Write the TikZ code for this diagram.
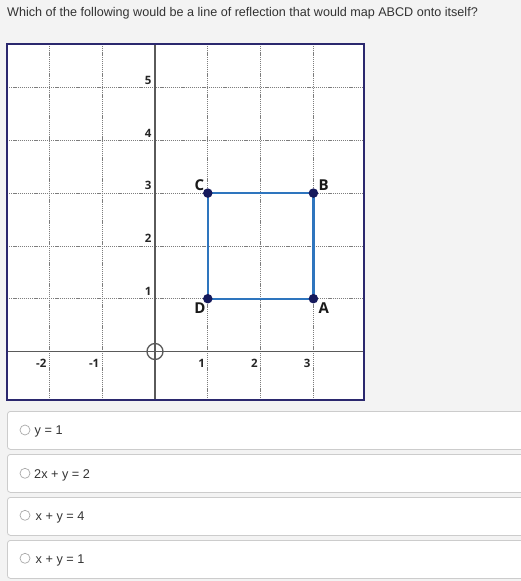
\documentclass[tikz,border=0pt]{standalone}
\usepackage{fontspec}
\setmainfont{Liberation Sans}
\newfontfamily\tickfont{Open Sans}
\definecolor{bg}{RGB}{243,243,243}
\definecolor{navy}{RGB}{43,40,110}
\definecolor{sqblue}{RGB}{46,117,190}
\definecolor{dotnavy}{RGB}{22,26,92}
\definecolor{axisgray}{RGB}{90,90,90}
\definecolor{gridgray}{RGB}{125,125,125}
\definecolor{optgray}{RGB}{204,204,204}
\definecolor{radiogray}{RGB}{170,170,170}
\definecolor{txt}{RGB}{51,51,51}
\begin{document}
\begin{tikzpicture}[x=1pt,y=-1pt,
  gridline/.style={gridgray, line width=0.7pt, dash pattern=on 1.2pt off 0.9pt},
  axisline/.style={axisgray, line width=1.5pt},
  sqline/.style={sqblue, line width=2.4pt},
  dot/.style={circle, fill=dotnavy, inner sep=0pt, minimum size=9.5pt},
  tick/.style={font=\tickfont\bfseries\fontsize{11.5}{12}\selectfont, inner sep=0pt, text=black!85},
  ptlabel/.style={font=\tickfont\bfseries\fontsize{15}{16}\selectfont, inner sep=0pt, text=black!90},
  optbox/.style={draw=optgray, fill=white, rounded corners=3pt, line width=0.8pt, anchor=north west, minimum width=540pt, minimum height=38pt, inner sep=0pt},
  radio/.style={circle, draw=radiogray, fill=white, line width=0.7pt, minimum size=10pt, inner sep=0pt},
  opttext/.style={font=\fontsize{12.7}{14}\selectfont, text=txt, anchor=base west, inner sep=0pt}]
\clip (0,0) rectangle (521,581);
\fill[bg] (0,0) rectangle (521,581);
% question
\node[anchor=base west, inner sep=0pt, font=\fontsize{12.6}{14}\selectfont, text=txt] (q) at (7,16)
  {Which of the following would be a line of reflection that would map ABCD onto itself?};
% graph
\begin{scope}[shift={(155pt,-351.5pt)}, x=52.8pt, y=52.8pt]
  \fill[white] (-2.803,-0.919) rectangle (3.958,5.824);
  \foreach \i in {-2,-1,1,2,3} \draw[gridline] (\i,-0.919) -- (\i,5.824);
  \foreach \j in {1,...,5} \draw[gridline] (-2.803,\j) -- (3.958,\j);
  \draw[axisline] (0,-0.919) -- (0,5.824);
  \draw[axisline] (-2.803,0) -- (3.958,0);
  \node[circle, draw=axisgray, line width=1.3pt, minimum size=16pt, inner sep=0pt] (O) at (0,0) {};
  \foreach \j in {1,...,5} \node[tick, anchor=south east] (y\j) at ([xshift=-3.3pt,yshift=3pt]0,\j) {\j};
  \foreach \i/\n in {-2/m2,-1/m1,1/p1,2/p2,3/p3} \node[tick, anchor=north east] (x\n) at ([xshift=-2.7pt,yshift=-7.5pt]\i,0) {\i};
  \coordinate (A) at (3,1);
  \coordinate (B) at (3,3);
  \coordinate (C) at (1,3);
  \coordinate (D) at (1,1);
  \draw[sqline, line join=miter] (A) -- (B) -- (C) -- (D) -- cycle;
  \node[dot] (dA) at (A) {};
  \node[dot] (dB) at (B) {};
  \node[dot] (dC) at (C) {};
  \node[dot] (dD) at (D) {};
  \node[ptlabel, anchor=south east] (lC) at ([xshift=-3.5pt,yshift=2pt]C) {C};
  \node[ptlabel, anchor=south west] (lB) at ([xshift=5pt,yshift=2pt]B) {B};
  \node[ptlabel, anchor=north east] (lD) at ([xshift=-2pt,yshift=-4pt]D) {D};
  \node[ptlabel, anchor=north west] (lA) at ([xshift=5pt,yshift=-4pt]A) {A};
  \draw[navy, line width=2.5pt] (-2.803,-0.919) rectangle (3.958,5.824);
\end{scope}
% options
\node[optbox] (b1) at (7,411) {};
\node[optbox] (b2) at (7,454) {};
\node[optbox] (b3) at (7,497) {};
\node[optbox] (b4) at (7,540) {};
\node[radio] (r1) at (25,430) {};
\node[radio] (r2) at (25,473.3) {};
\node[radio] (r3) at (25,515.3) {};
\node[radio] (r4) at (25,558.3) {};
\node[opttext] (t1) at (34.5,434.5) {y = 1};
\node[opttext] (t2) at (34,478.5) {2x + y = 2};
\node[opttext] (t3) at (35.5,520.5) {x + y = 4};
\node[opttext] (t4) at (35.5,563) {x + y = 1};
\end{tikzpicture}
\end{document}
